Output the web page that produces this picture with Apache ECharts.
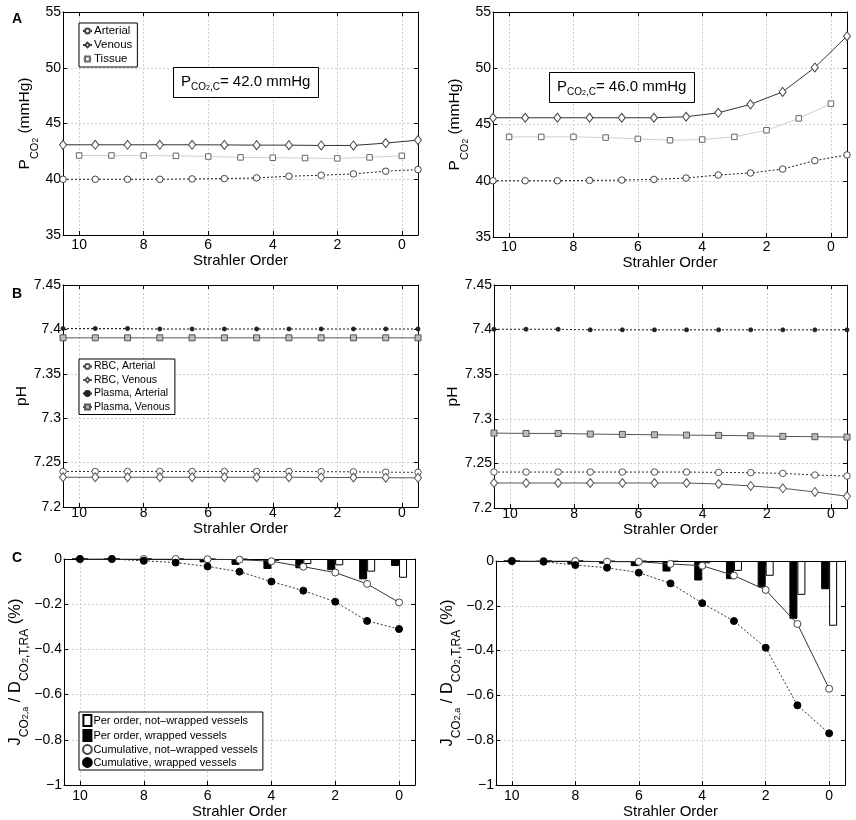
<!DOCTYPE html>
<html>
<head>
<meta charset="utf-8">
<script src="https://cdn.jsdelivr.net/npm/echarts@6/dist/echarts.min.js"></script>
<style>
html,body{margin:0;padding:0;background:#fff}
#main{width:856px;height:820px}
</style>
</head>
<body>
<div id="main"></div>
<script>
// blood values sit on half orders, tissue and flux values on whole orders
var bloodOrders = [10.5, 9.5, 8.5, 7.5, 6.5, 5.5, 4.5, 3.5, 2.5, 1.5, 0.5, -0.5];
var wholeOrders = [10, 9, 8, 7, 6, 5, 4, 3, 2, 1, 0];

// A: P_CO2 (mmHg), left = 42.0 mmHg, right = 46.0 mmHg
var pco2ArtLo = [40.0, 40.0, 40.0, 40.0, 40.03, 40.06, 40.12, 40.27, 40.36, 40.48, 40.72, 40.87];
var pco2VenLo = [43.09, 43.09, 43.09, 43.09, 43.09, 43.08, 43.06, 43.06, 43.03, 43.03, 43.24, 43.51];
var pco2TisLo = [42.13, 42.13, 42.13, 42.1, 42.04, 41.96, 41.93, 41.9, 41.87, 41.96, 42.1];
var pco2ArtHi = [40.0, 40.0, 40.0, 40.03, 40.06, 40.12, 40.24, 40.51, 40.69, 41.04, 41.79, 42.3];
var pco2VenHi = [45.6, 45.6, 45.6, 45.6, 45.6, 45.6, 45.69, 46.04, 46.79, 47.9, 50.07, 52.85];
var pco2TisHi = [43.9, 43.9, 43.9, 43.84, 43.72, 43.6, 43.66, 43.9, 44.49, 45.54, 46.85];

// B: pH
var phRbcArtLo = [7.240, 7.240, 7.240, 7.240, 7.240, 7.240, 7.240, 7.240, 7.2398, 7.2396, 7.2392, 7.239];
var phRbcVenLo = [7.2335, 7.2335, 7.2335, 7.2335, 7.2335, 7.2335, 7.2335, 7.2335, 7.2333, 7.2332, 7.233, 7.2328];
var phPlaArtLo = [7.401, 7.401, 7.401, 7.4005, 7.4005, 7.4005, 7.4005, 7.4005, 7.4005, 7.4005, 7.4005, 7.4005];
var phPlaVenLo = [7.3905, 7.3905, 7.3905, 7.3905, 7.3905, 7.3905, 7.3905, 7.3905, 7.3905, 7.3905, 7.3905, 7.3905];
var phRbcArtHi = [7.2403, 7.2403, 7.2403, 7.2403, 7.2403, 7.2403, 7.2403, 7.2399, 7.2396, 7.2388, 7.237, 7.2358];
var phRbcVenHi = [7.228, 7.228, 7.228, 7.228, 7.228, 7.228, 7.228, 7.2269, 7.2247, 7.2221, 7.218, 7.2131];
var phPlaArtHi = [7.4004, 7.4004, 7.4004, 7.3997, 7.3997, 7.3997, 7.3997, 7.3997, 7.3997, 7.3997, 7.3997, 7.3997];
var phPlaVenHi = [7.284, 7.2836, 7.2836, 7.2829, 7.2825, 7.2821, 7.2817, 7.2814, 7.281, 7.2803, 7.2799, 7.2795];

// C: J_CO2,a / D_CO2,T,RA (%)
var perNotWrapLo = [0, 0, 0, 0, -0.001, -0.002, -0.008, -0.022, -0.028, -0.056, -0.083];
var perWrapLo = [0, 0, -0.006, -0.005, -0.015, -0.026, -0.044, -0.041, -0.049, -0.09, -0.031];
var cumNotWrapLo = [0, 0, 0, 0, -0.001, -0.003, -0.01, -0.034, -0.06, -0.11, -0.192];
var cumWrapLo = [0, 0, -0.008, -0.016, -0.033, -0.056, -0.10, -0.14, -0.189, -0.274, -0.31];
var perNotWrapHi = [0, 0, 0, -0.002, -0.002, -0.003, -0.01, -0.044, -0.066, -0.151, -0.289];
var perWrapHi = [0, -0.003, -0.015, -0.012, -0.023, -0.047, -0.087, -0.081, -0.118, -0.258, -0.126];
var cumNotWrapHi = [0, 0, 0, -0.003, -0.003, -0.013, -0.021, -0.065, -0.129, -0.281, -0.57];
var cumWrapHi = [0, -0.003, -0.018, -0.03, -0.052, -0.10, -0.188, -0.268, -0.387, -0.644, -0.769];

var pcoBoxLo = '42.0';
var pcoBoxHi = '46.0';

var FONT = 'Liberation Sans, Arial, Helvetica, sans-serif';

function pair(xs, ys) {
  return xs.map(function (x, i) { return [x, ys[i]]; });
}

var grids = [
  {left: 63, top: 12, width: 355, height: 223},
  {left: 493, top: 12, width: 354, height: 225},
  {left: 63, top: 285, width: 355, height: 222},
  {left: 494, top: 285, width: 353, height: 223},
  {left: 64, top: 559, width: 351, height: 226},
  {left: 496, top: 561, width: 349, height: 225}
];

var rows = [
  {min: 35, max: 55, interval: 5, name: '{m|P}{s|CO}{ss|2}{m| (mmHg)}', nameGap: 23,
   fmt: function (v) { return String(v); }, labMargin: 3, nameGapX: 14},
  {min: 7.2, max: 7.45, interval: 0.05, name: '{m|pH}', nameGap: 24,
   fmt: function (v) { return String(parseFloat(v.toFixed(2))); }, labMargin: -1, nameGapX: 8},
  {min: -1, max: 0, interval: 0.2, name: '{m|J}{s|CO}{ss|2,a}{m| / D}{s|CO}{ss|2}{s|,T,RA}{m| (%)}', nameGap: 28,
   fmt: function (v) { var s = String(parseFloat(v.toFixed(1))); return s.replace('-', '\u2212'); }, labMargin: 4, nameGapX: 13}
];

var nameRich = {
  m: {fontSize: 15.5, fontFamily: FONT, color: '#000', lineHeight: 30},
  s: {fontSize: 11, fontFamily: FONT, color: '#000', lineHeight: 16, verticalAlign: 'bottom'},
  ss: {fontSize: 8.5, fontFamily: FONT, color: '#000', lineHeight: 6, verticalAlign: 'bottom'}
};
var nameRichC = {
  m: {fontSize: 16.5, fontFamily: FONT, color: '#000', lineHeight: 30},
  s: {fontSize: 12, fontFamily: FONT, color: '#000', lineHeight: 16, verticalAlign: 'bottom'},
  ss: {fontSize: 9, fontFamily: FONT, color: '#000', lineHeight: 6, verticalAlign: 'bottom'}
};

var gridLine = {show: true, lineStyle: {color: '#cfcfcf', type: [2, 2], width: 1}};
var blackLine = {show: true, onZero: false, lineStyle: {color: '#000', width: 1}};
var inTick = {show: true, inside: true, length: 4, lineStyle: {color: '#000'}};

var xAxes = [], yAxes = [];
grids.forEach(function (g, gi) {
  var r = rows[Math.floor(gi / 2)];
  var tickFmt = function (v) { return (Math.abs(v % 2) < 1e-9) ? String(v) : ''; };
  xAxes.push({
    type: 'value', gridIndex: gi, min: -0.5, max: 10.5, splitNumber: 5, inverse: true,
    position: 'bottom',
    name: 'Strahler Order', nameLocation: 'middle', nameGap: r.nameGapX,
    nameTextStyle: {fontSize: 15, fontFamily: FONT, color: '#000'},
    axisLine: blackLine, axisTick: inTick,
    axisLabel: {fontSize: 14, fontFamily: FONT, color: '#000', margin: r.labMargin, formatter: tickFmt},
    splitLine: gridLine
  });
  xAxes.push({
    type: 'value', gridIndex: gi, min: -0.5, max: 10.5, splitNumber: 5, inverse: true,
    position: 'top',
    axisLine: blackLine, axisTick: inTick,
    axisLabel: {show: false},
    splitLine: {show: false}
  });
  yAxes.push({
    type: 'value', gridIndex: gi, min: r.min, max: r.max, interval: r.interval,
    position: 'left',
    name: r.name, nameLocation: 'middle', nameGap: r.nameGap, nameRotate: 90,
    nameTextStyle: {rich: gi >= 4 ? nameRichC : nameRich, fontFamily: FONT, color: '#000'},
    axisLine: blackLine, axisTick: inTick,
    axisLabel: {fontSize: 14, fontFamily: FONT, color: '#000', margin: 2, formatter: r.fmt},
    splitLine: gridLine
  });
  yAxes.push({
    type: 'value', gridIndex: gi, min: r.min, max: r.max, interval: r.interval,
    position: 'right',
    axisLine: blackLine, axisTick: inTick,
    axisLabel: {show: false},
    splitLine: {show: false}
  });
});

function lineSeries(name, gi, xs, ys, sty) {
  return {
    type: 'line', name: name, xAxisIndex: gi * 2, yAxisIndex: gi * 2,
    data: pair(xs, ys), symbol: sty.symbol, symbolSize: sty.size,
    showAllSymbol: true, animation: false, z: 3,
    lineStyle: {color: sty.line, width: 1, type: sty.type || 'solid'},
    itemStyle: {color: sty.fill, borderColor: sty.border, borderWidth: 1}
  };
}
function barSeries(name, gi, ys, fill) {
  return {
    type: 'bar', name: name, xAxisIndex: gi * 2, yAxisIndex: gi * 2,
    data: pair(wholeOrders, ys), barWidth: 8, barGap: '0%', animation: false,
    itemStyle: {color: fill, borderColor: '#000', borderWidth: 1}
  };
}

var stArt = {symbol: 'circle', size: 6.5, fill: '#fff', border: '#444', line: '#222', type: [2, 2]};
var stVen = {symbol: 'diamond', size: [7, 9], fill: '#fff', border: '#444', line: '#333'};
var stTis = {symbol: 'rect', size: 5.5, fill: '#fff', border: '#666', line: '#cfcfcf'};
var stRbcArt = {symbol: 'circle', size: 6.5, fill: '#fff', border: '#555', line: '#333', type: [2, 2]};
var stRbcVen = {symbol: 'diamond', size: [7, 9], fill: '#fff', border: '#555', line: '#555'};
var stPlaArt = {symbol: 'circle', size: 4, fill: '#222', border: '#222', line: '#222', type: [2, 2]};
var stPlaVen = {symbol: 'rect', size: 6, fill: '#bbb', border: '#555', line: '#555'};
var stCumNot = {symbol: 'circle', size: 7, fill: '#fff', border: '#444', line: '#333'};
var stCumWrap = {symbol: 'circle', size: 7, fill: '#000', border: '#000', line: '#333', type: [2, 2]};

var NW = 'Per order, not\u2013wrapped vessels', WR = 'Per order, wrapped vessels';
var CNW = 'Cumulative, not\u2013wrapped vessels', CWR = 'Cumulative, wrapped vessels';

var series = [
  lineSeries('Arterial', 0, bloodOrders, pco2ArtLo, stArt),
  lineSeries('Venous', 0, bloodOrders, pco2VenLo, stVen),
  lineSeries('Tissue', 0, wholeOrders, pco2TisLo, stTis),
  lineSeries('Arterial', 1, bloodOrders, pco2ArtHi, stArt),
  lineSeries('Venous', 1, bloodOrders, pco2VenHi, stVen),
  lineSeries('Tissue', 1, wholeOrders, pco2TisHi, stTis),
  lineSeries('RBC, Arterial', 2, bloodOrders, phRbcArtLo, stRbcArt),
  lineSeries('RBC, Venous', 2, bloodOrders, phRbcVenLo, stRbcVen),
  lineSeries('Plasma, Arterial', 2, bloodOrders, phPlaArtLo, stPlaArt),
  lineSeries('Plasma, Venous', 2, bloodOrders, phPlaVenLo, stPlaVen),
  lineSeries('RBC, Arterial', 3, bloodOrders, phRbcArtHi, stRbcArt),
  lineSeries('RBC, Venous', 3, bloodOrders, phRbcVenHi, stRbcVen),
  lineSeries('Plasma, Arterial', 3, bloodOrders, phPlaArtHi, stPlaArt),
  lineSeries('Plasma, Venous', 3, bloodOrders, phPlaVenHi, stPlaVen),
  barSeries(WR, 4, perWrapLo, '#000'),
  barSeries(NW, 4, perNotWrapLo, '#fff'),
  lineSeries(CNW, 4, wholeOrders, cumNotWrapLo, stCumNot),
  lineSeries(CWR, 4, wholeOrders, cumWrapLo, stCumWrap),
  barSeries(WR, 5, perWrapHi, '#000'),
  barSeries(NW, 5, perNotWrapHi, '#fff'),
  lineSeries(CNW, 5, wholeOrders, cumNotWrapHi, stCumNot),
  lineSeries(CWR, 5, wholeOrders, cumWrapHi, stCumWrap)
];

function legendBox(left, top, names, fs, gap, iw, ih) {
  return {
    orient: 'vertical', left: left, top: top, data: names,
    backgroundColor: '#fff', borderColor: '#000', borderWidth: 1, borderRadius: 0,
    padding: [2, 5, 2, 3], itemGap: gap, itemWidth: iw, itemHeight: ih,
    selectedMode: false,
    textStyle: {fontSize: fs, fontFamily: FONT, color: '#000', padding: [0, 0, 0, -3]}
  };
}

var boxRich = {
  m: {fontSize: 15, fontWeight: 'normal', fontFamily: FONT, color: '#000', lineHeight: 20},
  s: {fontSize: 10, fontWeight: 'normal', fontFamily: FONT, color: '#000', lineHeight: 12, verticalAlign: 'bottom'},
  ss: {fontSize: 7, fontWeight: 'normal', fontFamily: FONT, color: '#000', lineHeight: 5, verticalAlign: 'bottom'}
};
function pcoBox(left, top, val) {
  return {
    left: left, top: top,
    text: '{m|P}{s|CO}{ss|2}{s|,C}{m|= ' + val + ' mmHg}',
    backgroundColor: '#fff', borderColor: '#000', borderWidth: 1,
    padding: [7, 8, 6, 8],
    textStyle: {fontWeight: 'normal', rich: boxRich}
  };
}
function letter(top, txt) {
  return {left: 12, top: top, text: txt, padding: 0,
    textStyle: {fontSize: 14, fontWeight: 'bold', fontFamily: FONT, color: '#000'}};
}

var chart = echarts.init(document.getElementById('main'));
chart.setOption({
  backgroundColor: '#fff',
  animation: false,
  title: [
    letter(12, 'A'), letter(287, 'B'), letter(551, 'C'),
    pcoBox(173, 65, pcoBoxLo), pcoBox(549, 70, pcoBoxHi)
  ],
  legend: [
    legendBox(79, 23, ['Arterial', 'Venous', 'Tissue'], 11.5, 2, 9, 6),
    legendBox(79, 359, ['RBC, Arterial', 'RBC, Venous', 'Plasma, Arterial', 'Plasma, Venous'], 10.5, 2.5, 9, 6),
    legendBox(79, 712, [{name: NW, icon: 'rect'}, {name: WR, icon: 'rect'}, CNW, CWR], 11, 2, 8, 11)
  ],
  grid: grids,
  xAxis: xAxes,
  yAxis: yAxes,
  series: series
});
</script>
</body>
</html>
